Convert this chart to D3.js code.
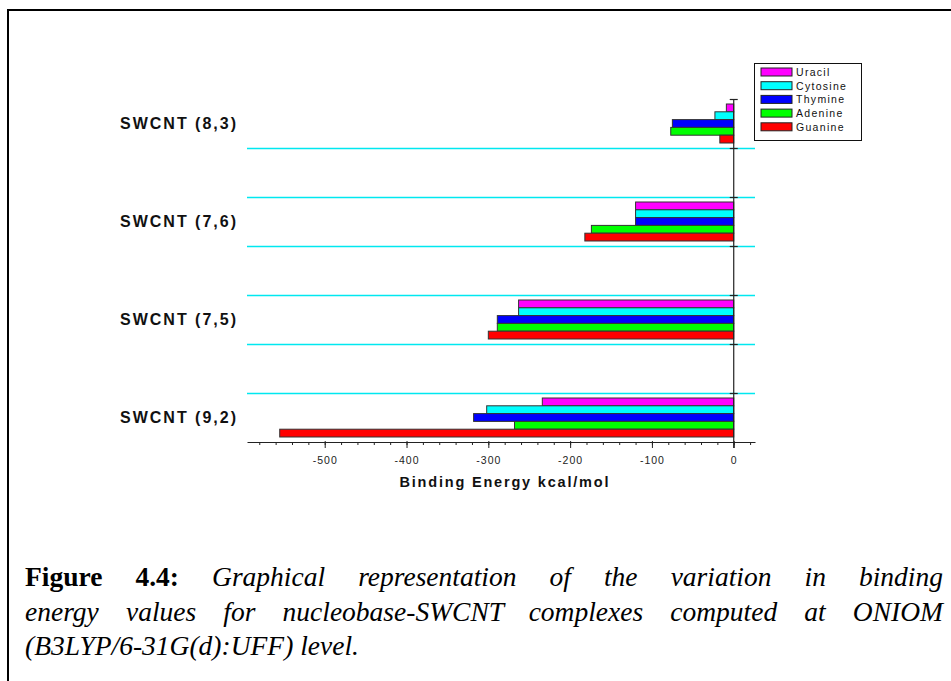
<!DOCTYPE html>
<html>
<head>
<meta charset="utf-8">
<script src="https://cdn.jsdelivr.net/npm/d3@7"></script>
<style>
  html, body { margin: 0; padding: 0; background: #fff; }
  svg { display: block; }
</style>
</head>
<body>
<script>
// ---------------- DATA ----------------
const categories = ["SWCNT (8,3)", "SWCNT (7,6)", "SWCNT (7,5)", "SWCNT (9,2)"];
const seriesNames = ["Uracil", "Cytosine", "Thymine", "Adenine", "Guanine"];
const uracil   = [-9,  -120, -263, -234];
const cytosine = [-23, -120, -263, -302];
const thymine  = [-75, -120, -289, -318];
const adenine  = [-77, -174, -289, -268];
const guanine  = [-17, -182, -300, -555];
const seriesValues = [uracil, cytosine, thymine, adenine, guanine];
const seriesColors = ["#ff00ff", "#00ffff", "#0000ff", "#00ff00", "#ff0000"];
const xMajorTicks = [-500, -400, -300, -200, -100, 0];
const xMinorTicks = [-580,-560,-540,-520,-500,-480,-460,-440,-420,-400,-380,-360,-340,-320,-300,-280,-260,-240,-220,-200,-180,-160,-140,-120,-100,-80,-60,-40,-20,0,20];
const xTitle = "Binding Energy kcal/mol";
const captionLines = [
  {words: [["Figure","b"], ["4.4:","b"], ["Graphical","i"],["representation","i"],["of","i"],["the","i"],["variation","i"],["in","i"],["binding","i"]], justify: true},
  {words: [["energy","i"],["values","i"],["for","i"],["nucleobase-SWCNT","i"],["complexes","i"],["computed","i"],["at","i"],["ONIOM","i"]], justify: true},
  {words: [["(B3LYP/6-31G(d):UFF)","i"],["level.","i"]], justify: false}
];

// ---------------- LAYOUT ----------------
const W = 951, H = 681;
const svg = d3.select("body").append("svg").attr("width", W).attr("height", H);

// frame
svg.append("line").attr("x1", 7).attr("x2", W).attr("y1", 10).attr("y2", 10)
  .attr("stroke", "#000").attr("stroke-width", 2);
svg.append("line").attr("x1", 8).attr("x2", 8).attr("y1", 9).attr("y2", H)
  .attr("stroke", "#000").attr("stroke-width", 2);

const plotTop = 99, plotBottom = 442, plotLeft = 247, plotRight = 755;
const x = d3.scaleLinear().domain([-595, 26]).range([plotLeft, plotRight]);
const y = d3.scaleBand().domain(categories).range([plotTop, plotBottom]).paddingInner(0.5).paddingOuter(0);
const bw = y.bandwidth();
const yInner = d3.scaleBand().domain(seriesNames).range([5, bw - 5]).padding(0);
const x0 = x(0);

const font = "'Liberation Sans', Arial, sans-serif";

// cyan grid lines at band edges (except top edge of first band and bottom of last)
const gridYs = [];
categories.forEach((c, i) => {
  if (i > 0) gridYs.push(y(c));
  if (i < categories.length - 1) gridYs.push(y(c) + bw);
});
svg.append("g").selectAll("line").data(gridYs).join("line")
  .attr("x1", plotLeft).attr("x2", plotRight)
  .attr("y1", d => Math.round(d) + 0.5).attr("y2", d => Math.round(d) + 0.5)
  .attr("stroke", "#00e8f0").attr("stroke-width", 1.3);

// bars
const barData = [];
categories.forEach((c, ci) => {
  seriesNames.forEach((s, si) => {
    barData.push({cat: c, s, v: seriesValues[si][ci], color: seriesColors[si]});
  });
});
svg.append("g").selectAll("rect").data(barData).join("rect")
  .attr("x", d => x(Math.min(0, d.v)))
  .attr("width", d => Math.abs(x(d.v) - x0))
  .attr("y", d => y(d.cat) + yInner(d.s))
  .attr("height", yInner.bandwidth())
  .attr("fill", d => d.color)
  .attr("stroke", "#333").attr("stroke-width", 1);

// x axis
const gx = svg.append("g").attr("transform", `translate(0,${plotBottom})`);
gx.call(d3.axisBottom(x).tickValues(xMinorTicks).tickSize(3).tickSizeOuter(0).tickFormat(""));
gx.select(".domain").attr("stroke", "#222").attr("stroke-width", 1.2);
gx.selectAll(".tick line").attr("stroke", "#222");
const gx2 = svg.append("g").attr("transform", `translate(0,${plotBottom})`);
gx2.call(d3.axisBottom(x).tickValues(xMajorTicks).tickSize(6).tickPadding(9).tickFormat(d3.format("d")));
gx2.select(".domain").remove();
gx2.selectAll(".tick line").attr("stroke", "#222").attr("y1", -1);
gx2.selectAll(".tick text")
  .attr("font-family", font).attr("font-size", 10.5).attr("fill", "#222")
  .attr("letter-spacing", 1).text(d => d === 0 ? "0" : "-" + Math.abs(d));

// x title
svg.append("text").attr("x", (plotLeft + plotRight) / 2 + 3).attr("y", 487)
  .attr("text-anchor", "middle").attr("font-family", font).attr("font-weight", "bold")
  .attr("font-size", 14.5).attr("fill", "#111")
  .attr("textLength", 209).attr("lengthAdjust", "spacing")
  .text(xTitle);

// vertical axis at 0
svg.append("line").attr("x1", x0).attr("x2", x0).attr("y1", plotTop).attr("y2", plotBottom + 6)
  .attr("stroke", "#222").attr("stroke-width", 1.2);
const vTicks = [plotTop].concat(gridYs);
svg.append("g").selectAll("line").data(vTicks).join("line")
  .attr("x1", x0 - 4).attr("x2", x0 + 4)
  .attr("y1", d => Math.round(d) + 0.5).attr("y2", d => Math.round(d) + 0.5)
  .attr("stroke", "#222").attr("stroke-width", 1.2);

// category labels
svg.append("g").selectAll("text").data(categories).join("text")
  .attr("x", 236).attr("y", d => y(d) + bw / 2 + 5.5)
  .attr("text-anchor", "end").attr("font-family", font).attr("font-weight", "bold")
  .attr("font-size", 16).attr("fill", "#111")
  .attr("textLength", 116).attr("lengthAdjust", "spacing")
  .text(d => d);

// legend
const lg = svg.append("g");
const lgX = 754, lgY = 63, lgW = 107, lgH = 77, rowH = 13.7, firstRow = 72;
lg.append("rect").attr("x", lgX + 0.5).attr("y", lgY + 0.5).attr("width", lgW).attr("height", lgH)
  .attr("fill", "#fff").attr("stroke", "#111").attr("stroke-width", 1);
seriesNames.forEach((s, i) => {
  const cy = firstRow + i * rowH;
  lg.append("rect").attr("x", 761).attr("y", cy - 4).attr("width", 31).attr("height", 8)
    .attr("fill", seriesColors[i]).attr("stroke", "#222").attr("stroke-width", 1);
  lg.append("text").attr("x", 796).attr("y", cy + 3.8)
    .attr("font-family", font).attr("font-size", 10.5).attr("fill", "#111")
    .attr("letter-spacing", 1.3).text(s);
});

// caption
const capX0 = 25, capX1 = 943, capBase = [586, 620.5, 655];
captionLines.forEach((line, li) => {
  const t = svg.append("text").attr("y", capBase[li])
    .attr("font-family", "'Liberation Serif', 'Times New Roman', serif")
    .attr("font-size", 27.5).attr("fill", "#000");
  const spans = line.words.map(([w, st]) => t.append("tspan")
    .attr("font-weight", st === "b" ? "bold" : "normal")
    .attr("font-style", st === "i" ? "italic" : "normal")
    .text(w));
  const widths = spans.map(sp => sp.node().getComputedTextLength());
  const total = d3.sum(widths);
  const gap = line.justify ? (capX1 - capX0 - total) / (spans.length - 1) : 6.9;
  let cx = capX0;
  spans.forEach((sp, i) => { sp.attr("x", cx); cx += widths[i] + gap; });
});
</script>
</body>
</html>
